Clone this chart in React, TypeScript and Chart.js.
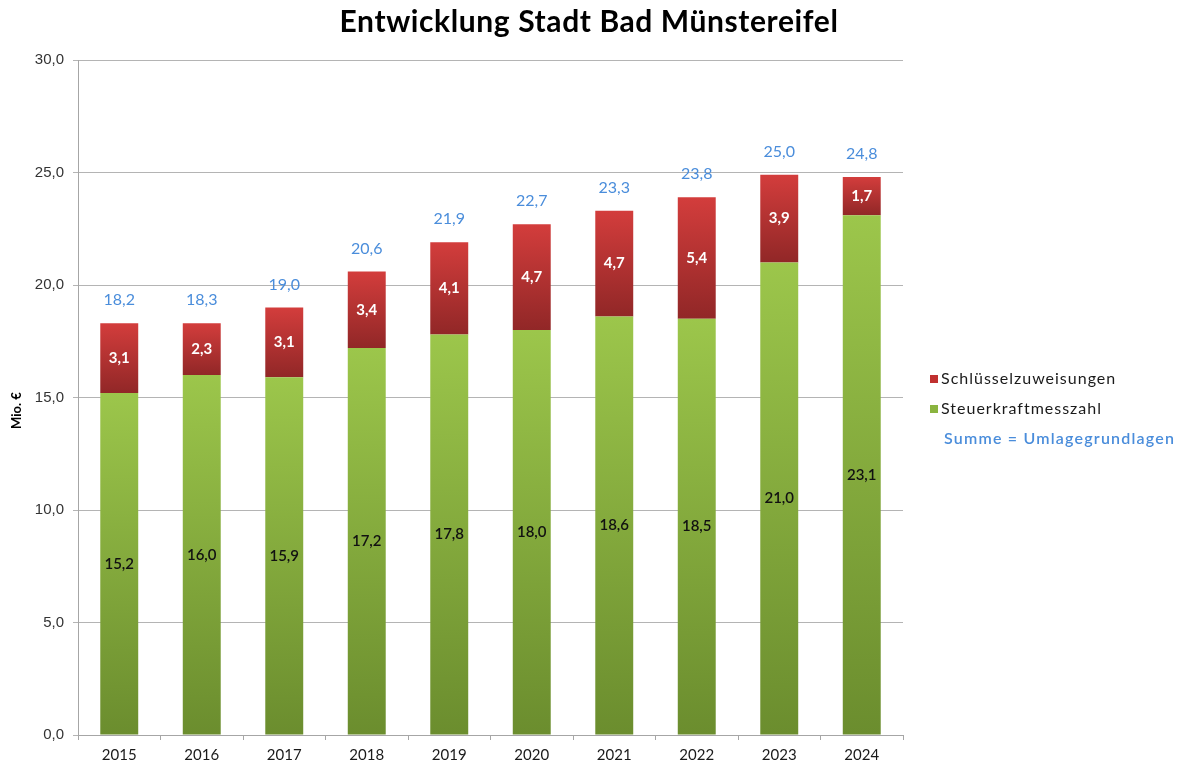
import React, { useEffect, useRef } from "react";
import { Chart, registerables } from "chart.js";

Chart.register(...registerables);

const years = ["2015", "2016", "2017", "2018", "2019", "2020", "2021", "2022", "2023", "2024"];
const steuerkraft = [15.2, 16.0, 15.9, 17.2, 17.8, 18.0, 18.6, 18.5, 21.0, 23.1];
const schluessel = [3.1, 2.3, 3.1, 3.4, 4.1, 4.7, 4.7, 5.4, 3.9, 1.7];
const summe = [18.2, 18.3, 19.0, 20.6, 21.9, 22.7, 23.3, 23.8, 25.0, 24.8];
const yTicks = [0, 5, 10, 15, 20, 25, 30];
const titleText = "Entwicklung Stadt Bad Münstereifel";
const yTitle = "Mio. €";
const legendItems = ["Schlüsselzuweisungen", "Steuerkraftmesszahl"];
const sumLegend = "Summe = Umlagegrundlagen";

const LABEL_FONT = "Lato, 'Open Sans', sans-serif";
const fmt = (v: number) => v.toFixed(1).replace(".", ",");

function gradientFor(ctx: any, bottomVal: number, topVal: number, c1: string, c2: string) {
  const chart = ctx.chart;
  const y = chart.scales?.y;
  if (!y || !chart.chartArea) return c1;
  const top = y.getPixelForValue(topVal);
  const bottom = y.getPixelForValue(bottomVal);
  if (!isFinite(top) || !isFinite(bottom) || top === bottom) return c1;
  const g = chart.ctx.createLinearGradient(0, top, 0, bottom);
  g.addColorStop(0, c1);
  g.addColorStop(1, c2);
  return g;
}

const labelPlugin = {
  id: "barLabels",
  afterDatasetsDraw(chart: any) {
    const { ctx } = chart;
    const metaG = chart.getDatasetMeta(0);
    const metaR = chart.getDatasetMeta(1);
    const ca = chart.chartArea;
    ctx.save();
    ctx.textAlign = "center";
    ctx.textBaseline = "middle";
    metaG.data.forEach((el: any, i: number) => {
      ctx.font = `600 15px ${LABEL_FONT}`;
      ctx.fillStyle = "#111111";
      ctx.fillText(fmt(steuerkraft[i]), el.x, (el.y + el.base) / 2);
    });
    metaR.data.forEach((el: any, i: number) => {
      ctx.font = `bold 15px ${LABEL_FONT}`;
      ctx.fillStyle = "#ffffff";
      ctx.fillText(fmt(schluessel[i]), el.x, (el.y + el.base) / 2);
      ctx.font = `16px ${LABEL_FONT}`;
      ctx.fillStyle = "#4a8ddb";
      ctx.fillText(fmt(summe[i]), el.x, el.y - 23);
    });

    // title
    ctx.fillStyle = "#000000";
    ctx.font = `bold 30px ${LABEL_FONT}`;
    (ctx as any).letterSpacing = "0.6px";
    ctx.fillText(titleText, chart.width / 2 - 5, 22);

    // y axis title
    (ctx as any).letterSpacing = "0px";
    ctx.save();
    ctx.translate(17, (ca.top + ca.bottom) / 2 + 13);
    ctx.rotate(-Math.PI / 2);
    ctx.font = `bold 13px ${LABEL_FONT}`;
    ctx.fillText(yTitle, 0, 0);
    ctx.restore();

    // legend
    const lx = ca.right + 27;
    const colors = ["#c0302f", "#8ab43f"];
    ctx.textAlign = "left";
    (ctx as any).letterSpacing = "1px";
    legendItems.forEach((t, k) => {
      const yy = 379 + k * 30;
      ctx.fillStyle = colors[k];
      ctx.fillRect(lx, yy - 4, 8, 8);
      ctx.fillStyle = "#1a1a1a";
      ctx.font = `16px ${LABEL_FONT}`;
      ctx.fillText(t, lx + 11, yy);
    });
    ctx.fillStyle = "#4a8ddb";
    ctx.font = `600 16px ${LABEL_FONT}`;
    (ctx as any).letterSpacing = "1.2px";
    ctx.fillText(sumLegend, lx + 14, 439);
    ctx.restore();
  },
};

export default function App() {
  const ref = useRef<HTMLCanvasElement>(null);
  useEffect(() => {
    document.body.style.margin = "0";
    const canvas = ref.current!;
    const chart = new Chart(canvas, {
      type: "bar",
      data: {
        labels: years,
        datasets: [
          {
            label: legendItems[1],
            data: steuerkraft,
            backgroundColor: (c: any) =>
              gradientFor(c, 0, steuerkraft[c.dataIndex] ?? 0, "#9cc64b", "#6b8d2e"),
            borderWidth: 0,
            barPercentage: 0.92,
            categoryPercentage: 0.5,
          },
          {
            label: legendItems[0],
            data: schluessel,
            backgroundColor: (c: any) => {
              const i = c.dataIndex ?? 0;
              return gradientFor(c, steuerkraft[i], steuerkraft[i] + schluessel[i], "#d33d3c", "#912727");
            },
            borderWidth: 0,
            barPercentage: 0.92,
            categoryPercentage: 0.5,
          },
        ],
      },
      options: {
        animation: false,
        responsive: false,
        maintainAspectRatio: false,
        layout: { padding: { left: 0, right: 285, top: 60, bottom: 0 } },
        plugins: {
          legend: { display: false },
          tooltip: { enabled: false },
          title: { display: false },
        },
        scales: {
          x: {
            stacked: true,
            grid: {
              display: true,
              drawOnChartArea: false,
              drawTicks: true,
              tickLength: 5,
              offset: true,
              color: "#a6a6a6",
            },
            border: { display: true, color: "#a6a6a6", width: 1 },
            ticks: {
              color: "#1a1a1a",
              font: { family: LABEL_FONT, size: 15 },
              padding: 6,
            },
            afterFit: (s: any) => {
              s.height = 33;
            },
          },
          y: {
            stacked: true,
            min: 0,
            max: 30,
            afterBuildTicks: (s: any) => {
              s.ticks = yTicks.map((v) => ({ value: v }));
            },
            ticks: {
              color: "#333333",
              font: { family: "'Liberation Sans', Arial, sans-serif", size: 15 },
              padding: 9,
              callback: (v: any) => fmt(Number(v)),
            },
            grid: { color: "#b4b4b4", lineWidth: 1, tickLength: 5, drawTicks: true },
            border: { display: true, color: "#a6a6a6", width: 1 },
            afterFit: (s: any) => {
              s.width = 78;
            },
          },
        },
      },
      plugins: [labelPlugin],
    });
    return () => chart.destroy();
  }, []);
  return (
    <div style={{ width: 1188, height: 768 }}>
      <canvas ref={ref} width={1188} height={768} style={{ display: "block" }} />
    </div>
  );
}
